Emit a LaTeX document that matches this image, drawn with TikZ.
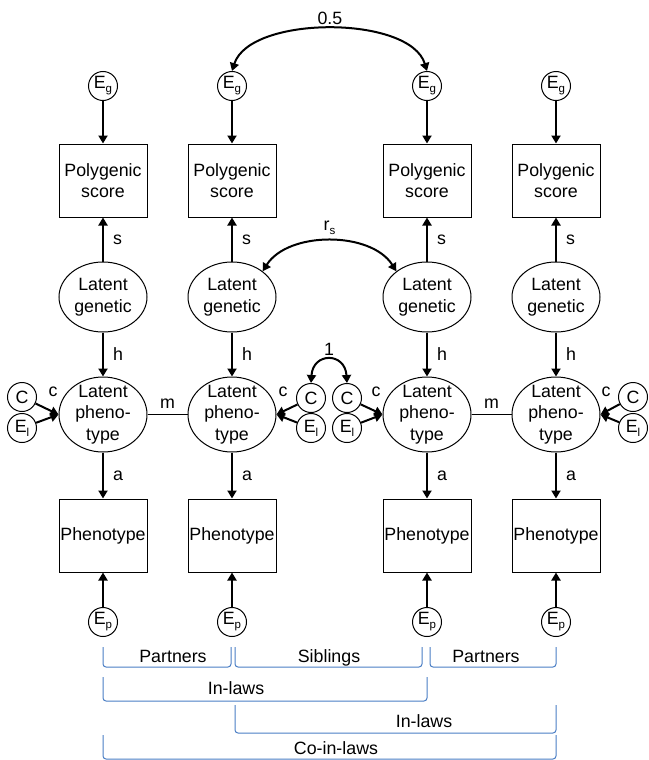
\documentclass[tikz,border=0pt]{standalone}
\usepackage{fontspec}
\setmainfont{Liberation Sans}
\usetikzlibrary{arrows.meta,shapes.geometric}
\definecolor{brk}{RGB}{74,126,196}
\newcommand{\mysub}[1]{\raisebox{-4pt}{\fontsize{11.5}{11.5}\selectfont #1}}
\begin{document}
\begin{tikzpicture}[x=1pt,y=-1pt,font=\fontsize{17.8}{21.5}\selectfont,
  boxnode/.style={draw,line width=1pt,minimum width=88pt,minimum height=73pt,inner sep=0pt,align=center},
  ellnode/.style={draw,ellipse,line width=1pt,minimum width=88pt,inner sep=0pt},
  circnode/.style={draw,circle,line width=1pt,minimum size=29pt,inner sep=0pt},
  arr/.style={line width=2pt,-{Triangle[width=9pt,length=8pt]}},
  darr/.style={line width=2pt,{Triangle[width=9pt,length=8pt]}-{Triangle[width=9pt,length=8pt]}},
  lbl/.style={inner sep=0pt},
  bracket/.style={draw=brk,line width=1pt,rounded corners=3pt}]
\useasboundingbox (0,0) rectangle (648,760);
\foreach \i/\x in {1/103,2/232,3/427,4/556}{
  \node[circnode] (eg\i) at (\x,86) {E\mysub{g}};
  \node[boxnode] (ps\i) at (\x,180.5) {Polygenic\\score};
  \node[ellnode,minimum height=70pt,label={[align=center]center:Latent\\genetic}] (lg\i) at (\x,297) {};
  \node[ellnode,minimum height=75pt,label={[align=center]center:Latent\\pheno-\\type}] (lp\i) at (\x,414.5) {};
  \node[boxnode] (ph\i) at (\x,535.5) {Phenotype};
  \node[circnode] (ep\i) at (\x,622) {E\mysub{p}};
  \draw[arr] (eg\i) -- (ps\i);
  \draw[arr] (lg\i) -- node[lbl,right=9pt] {s} (ps\i);
  \draw[arr] (lg\i) -- node[lbl,right=9pt] {h} (lp\i);
  \draw[arr] (lp\i) -- node[lbl,right=9pt] {a} (ph\i);
  \draw[arr] (ep\i) -- (ph\i);
}
% C and E_l
\node[circnode] (c1) at (22,397) {C};
\node[circnode] (el1) at (22,428) {E\mysub{l}};
\node[circnode] (c2) at (311,398) {C};
\node[circnode] (el2) at (311,428) {E\mysub{l}};
\node[circnode] (c3) at (347,398) {C};
\node[circnode] (el3) at (347,428) {E\mysub{l}};
\node[circnode] (c4) at (633,397) {C};
\node[circnode] (el4) at (633,428) {E\mysub{l}};
\draw[arr] (c1) -- (lp1.west);
\draw[arr] (el1) -- (lp1.west);
\draw[arr] (c2) -- (lp2.east);
\draw[arr] (el2) -- (lp2.east);
\draw[arr] (c3) -- (lp3.west);
\draw[arr] (el3) -- (lp3.west);
\draw[arr] (c4) -- (lp4.east);
\draw[arr] (el4) -- (lp4.east);
\node[lbl] at (53,392) {c};
\node[lbl] at (283,392) {c};
\node[lbl] at (376,392) {c};
\node[lbl] at (606,392) {c};
% m lines
\draw[line width=1.8pt] (lp1) -- node[lbl,above=5pt] {m} (lp2);
\draw[line width=1.8pt] (lp3) -- node[lbl,above=5pt] {m} (lp4);
% covariance arcs
\draw[darr] (eg2.north) .. controls (250,15) and (410,15) .. node[lbl,above=3pt] {0.5} (eg3.north);
\draw[darr] (lg2.40) .. controls (288,231) and (371,231) .. node[lbl,above=5pt] {r\mysub{s}} (lg3.140);
\draw[darr] (c2.north) .. controls (313,352) and (345,352) .. node[lbl,above=3pt] {1} (c3.north);
% brackets
\draw[bracket] (103,647) -- (103,667) -- (231,667) -- (231,647);
\node[lbl,anchor=base] at (173,662) {Partners};
\draw[bracket] (235,647) -- (235,667) -- (422,667) -- (422,647);
\node[lbl,anchor=base] at (329,662) {Siblings};
\draw[bracket] (430,647) -- (430,667) -- (556,667) -- (556,647);
\node[lbl,anchor=base] at (486,662) {Partners};
\draw[bracket] (103,677) -- (103,701) -- (427,701) -- (427,677);
\node[lbl,anchor=base] at (236,694) {In-laws};
\draw[bracket] (235,705) -- (235,733) -- (556,733) -- (556,705);
\node[lbl,anchor=base] at (424,727) {In-laws};
\draw[bracket] (103,735) -- (103,759) -- (556,759) -- (556,735);
\node[lbl,anchor=base] at (336,754) {Co-in-laws};
\end{tikzpicture}
\end{document}
